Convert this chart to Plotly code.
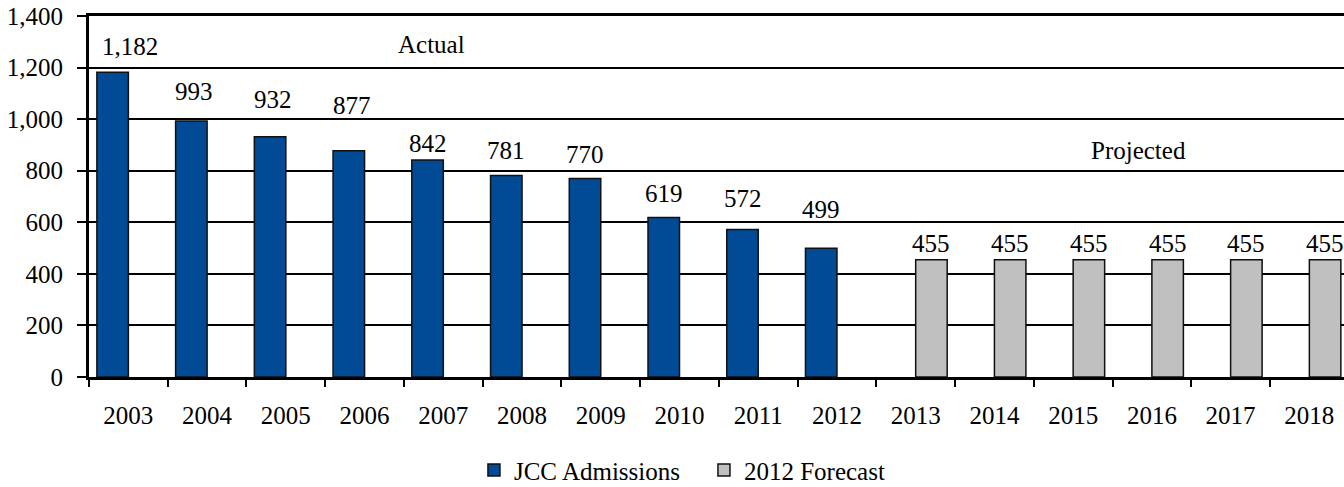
import plotly.graph_objects as go

years = ["2003", "2004", "2005", "2006", "2007", "2008", "2009", "2010",
         "2011", "2012", "2013", "2014", "2015", "2016", "2017", "2018"]
actual = [1182, 993, 932, 877, 842, 781, 770, 619, 572, 499,
          None, None, None, None, None, None]
forecast = [None, None, None, None, None, None, None, None, None, None,
            455, 455, 455, 455, 455, 455]

# label placement offsets (pixels above bar top) -- styling only
actual_label_yshift = [26, 29, 37, 45, 16, 25, 24, 24, 31, 39]
actual_label_xshift = [17, 3, 3, 3, 0, 0, 0, 0, 0, 0]
forecast_label_yshift = 16

FONT = "Liberation Serif"
FS = 25
BLUE = "#004A96"
GRAY = "#C0C0C0"

fig = go.Figure()
fig.add_trace(go.Bar(x=years, y=actual, name="JCC Admissions",
                     marker=dict(color=BLUE, line=dict(color="#111111", width=1.5))))
fig.add_trace(go.Bar(x=years, y=forecast, name="2012 Forecast",
                     marker=dict(color=GRAY, line=dict(color="#111111", width=1.5))))

slot = 15.7
annotations = []
for i, v in enumerate(actual):
    if v is None:
        continue
    annotations.append(dict(x=i, y=v, xref="x", yref="y", text=f"{v:,}",
                            showarrow=False, yanchor="middle", xanchor="center",
                            xshift=-slot + actual_label_xshift[i],
                            yshift=actual_label_yshift[i],
                            font=dict(family=FONT, size=FS, color="black")))
for i, v in enumerate(forecast):
    if v is None:
        continue
    annotations.append(dict(x=i, y=v, xref="x", yref="y", text=f"{v:,}",
                            showarrow=False, yanchor="middle", xanchor="center",
                            xshift=slot, yshift=forecast_label_yshift,
                            font=dict(family=FONT, size=FS, color="black")))

annotations.append(dict(x=0.2728, y=0.9197, xref="paper", yref="paper", text="Actual",
                        showarrow=False, xanchor="center", yanchor="middle",
                        font=dict(family=FONT, size=FS, color="black")))
annotations.append(dict(x=0.836, y=0.6288, xref="paper", yref="paper", text="Projected",
                        showarrow=False, xanchor="center", yanchor="middle",
                        font=dict(family=FONT, size=FS, color="black")))

fig.update_layout(
    width=1344, height=487,
    margin=dict(l=89, r=0, t=16, b=110, autoexpand=False),
    paper_bgcolor="white", plot_bgcolor="white",
    barmode="group", bargap=0.2, bargroupgap=0,
    font=dict(family=FONT, size=FS, color="black"),
    showlegend=True,
    legend=dict(orientation="h", x=0.49, xanchor="center", y=-0.258, yanchor="middle",
                font=dict(family=FONT, size=FS, color="black"),
                itemwidth=30, entrywidth=185, traceorder="normal"),
    annotations=annotations,
    xaxis=dict(type="category", range=[-0.5, 15.44], showgrid=False, automargin=False,
               showline=True, linecolor="black", linewidth=3, mirror=True,
               ticks="outside", tickson="boundaries", ticklen=7, tickwidth=2,
               tickcolor="black", ticklabelstandoff=14, ticklabeloverflow="allow",
               tickfont=dict(family=FONT, size=FS, color="black")),
    yaxis=dict(range=[0, 1400], dtick=200, tickformat=",", showgrid=True, automargin=False,
               gridcolor="black", gridwidth=2, zeroline=False,
               showline=True, linecolor="black", linewidth=3,
               ticks="outside", ticklen=9, tickwidth=2, tickcolor="black",
               ticklabelstandoff=9, ticklabeloverflow="allow",
               tickfont=dict(family=FONT, size=FS, color="black")),
)

fig.write_html("out.html", config={"displayModeBar": False},
               post_script="document.body.style.margin='0px';")
